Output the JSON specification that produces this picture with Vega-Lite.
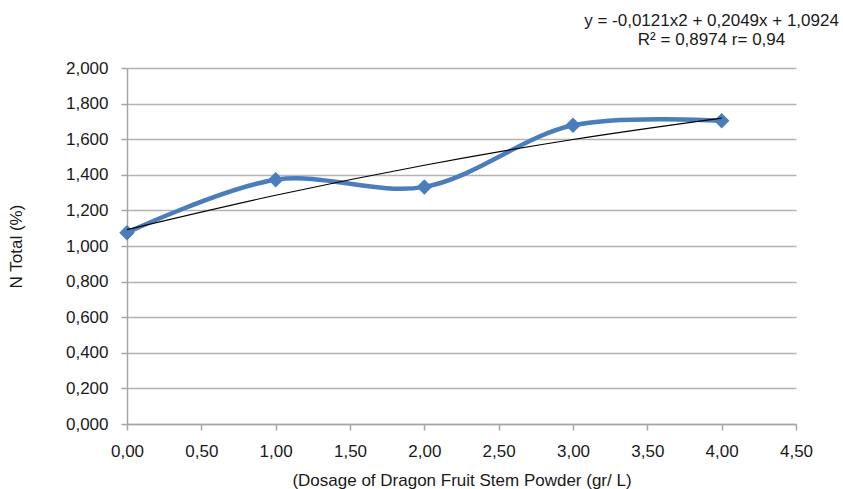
{
  "$schema": "https://vega.github.io/schema/vega-lite/v6.json",
  "width": 669,
  "height": 356,
  "autosize": "none",
  "padding": {"left": 127, "top": 68, "right": 47, "bottom": 65},
  "background": "white",
  "config": {
    "locale": {"number": {"decimal": ",", "thousands": ".", "grouping": [3], "currency": ["", ""]}},
    "view": {"stroke": null},
    "font": "Liberation Sans",
    "axis": {
      "labelFont": "Liberation Sans",
      "titleFont": "Liberation Sans",
      "labelFontSize": 17,
      "titleFontSize": 17,
      "labelColor": "#1a1a1a",
      "titleColor": "#1a1a1a",
      "titleFontWeight": "normal",
      "domainColor": "#a6a6a6",
      "tickColor": "#a6a6a6",
      "gridColor": "#b4b4b4",
      "domainWidth": 1.5,
      "tickWidth": 1.5,
      "gridWidth": 1.5,
      "tickSize": 6,
      "labelOverlap": false,
      "labelFlush": false
    }
  },
  "title": {
    "text": ["y = -0,0121x2 + 0,2049x + 1,0924", "R² = 0,8974 r= 0,94"],
    "anchor": "end",
    "align": "center",
    "dx": -101,
    "offset": 10,
    "fontSize": 17,
    "fontWeight": "normal",
    "font": "Liberation Sans",
    "color": "#1a1a1a",
    "lineHeight": 19
  },
  "datasets": {
    "obs": [
      {"dosage": 0, "n": 1.075},
      {"dosage": 1, "n": 1.372},
      {"dosage": 2, "n": 1.332},
      {"dosage": 3, "n": 1.678},
      {"dosage": 4, "n": 1.703}
    ],
    "trend": [
      {"dosage": 0, "n": 1.0924},
      {"dosage": 1, "n": 1.2852},
      {"dosage": 2, "n": 1.4538},
      {"dosage": 3, "n": 1.5982},
      {"dosage": 4, "n": 1.7184}
    ]
  },
  "encoding": {
    "x": {
      "field": "dosage", "type": "quantitative",
      "scale": {"domain": [0, 4.5], "nice": false},
      "axis": {"values": [0, 0.5, 1, 1.5, 2, 2.5, 3, 3.5, 4, 4.5], "tickCount": 20, "format": ".2f", "grid": false, "labelOverlap": false, "labelPadding": 13, "title": "(Dosage of Dragon Fruit Stem Powder (gr/ L)", "titlePadding": 13}
    },
    "y": {
      "field": "n", "type": "quantitative",
      "scale": {"domain": [0, 2], "nice": false},
      "axis": {"values": [0, 0.2, 0.4, 0.6, 0.8, 1, 1.2, 1.4, 1.6, 1.8, 2], "tickCount": 20, "format": ".3f", "grid": true, "labelOverlap": false, "labelBound": false, "labelPadding": 13, "title": "N Total (%)", "titlePadding": 40}
    }
  },
  "layer": [
    {
      "data": {"name": "obs"},
      "mark": {"type": "line", "interpolate": "catmull-rom", "color": "#4a7ebb", "strokeWidth": 4.5}
    },
    {
      "data": {"name": "obs"},
      "mark": {"type": "point", "shape": "diamond", "filled": true, "color": "#4a7ebb", "size": 240, "opacity": 1}
    },
    {
      "data": {"name": "trend"},
      "mark": {"type": "line", "interpolate": "monotone", "color": "#000000", "strokeWidth": 1.2}
    }
  ]
}
